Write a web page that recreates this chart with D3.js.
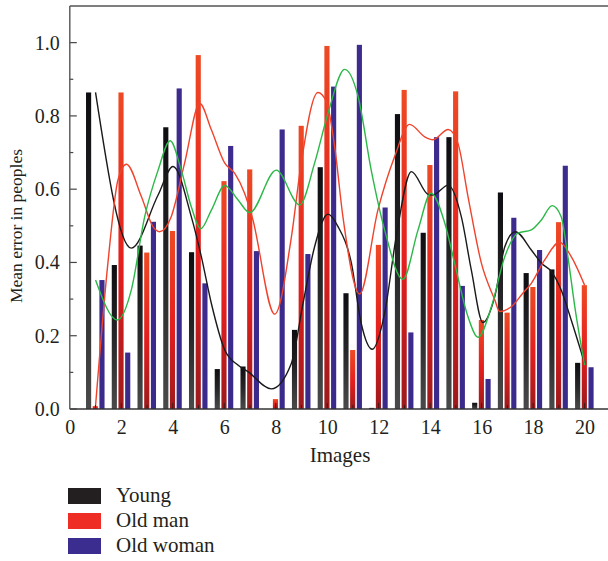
<!DOCTYPE html>
<html>
<head>
<meta charset="utf-8">
<script src="https://cdn.jsdelivr.net/npm/d3@7"></script>
<style>
  html, body { margin: 0; padding: 0; background: #fff; }
</style>
</head>
<body>
<svg id="chart" width="608" height="561"></svg>
<script>
// ---------- data ----------
const images = d3.range(1, 21);
const seriesNames = ["Young", "Old man", "Old woman"];
const young    = [0.864, 0.393, 0.446, 0.769, 0.428, 0.109, 0.116, 0.000, 0.216, 0.660,
                  0.316, 0.003, 0.805, 0.481, 0.742, 0.017, 0.591, 0.371, 0.381, 0.126];
const oldMan   = [0.008, 0.864, 0.427, 0.486, 0.966, 0.622, 0.654, 0.027, 0.773, 0.991,
                  0.161, 0.448, 0.871, 0.666, 0.867, 0.243, 0.263, 0.333, 0.510, 0.338];
const oldWoman = [0.352, 0.154, 0.511, 0.875, 0.343, 0.718, 0.431, 0.763, 0.423, 0.880,
                  0.994, 0.550, 0.209, 0.742, 0.336, 0.082, 0.522, 0.434, 0.664, 0.114];

// smooth trend curves: [image, value]
const youngCurve = [[1.0,0.864],[2.39,0.439],[3.43,0.584],[4.01,0.662],[4.72,0.525],[5.11,0.416],
  [5.50,0.288],[6.02,0.161],[6.53,0.120],[6.92,0.102],[7.83,0.055],[8.61,0.125],[9.06,0.288],
  [9.51,0.443],[10.03,0.532],[10.42,0.498],[10.94,0.398],[11.32,0.234],[11.75,0.163],[12.23,0.261],
  [12.68,0.470],[13.27,0.648],[13.92,0.586],[14.11,0.584],[14.70,0.611],[15.21,0.525],[15.60,0.379],
  [16.05,0.236],[16.51,0.307],[16.90,0.443],[17.31,0.484],[17.93,0.434],[18.32,0.398],[18.71,0.375],
  [19.09,0.325],[19.48,0.243],[20.0,0.125]];
const oldManCurve = [[1.0,0.008],[1.48,0.398],[1.87,0.625],[2.20,0.668],[2.78,0.58],[3.23,0.498],
  [3.49,0.484],[3.94,0.525],[4.46,0.671],[5.05,0.834],[5.50,0.762],[6.02,0.671],[6.41,0.643],
  [6.79,0.589],[7.10,0.520],[7.96,0.259],[8.61,0.47],[8.99,0.671],[9.64,0.864],[9.97,0.839],
  [10.29,0.716],[10.61,0.525],[11.26,0.314],[11.97,0.543],[12.62,0.689],[13.20,0.777],[13.79,0.743],
  [14.11,0.735],[14.70,0.763],[15.08,0.725],[15.47,0.58],[15.99,0.398],[16.51,0.298],[16.70,0.266],
  [17.15,0.279],[17.60,0.316],[17.93,0.343],[18.45,0.407],[19.03,0.455],[19.48,0.416],[20.0,0.338]];
const oldWomanCurve = [[1.0,0.352],[1.85,0.243],[2.39,0.325],[2.91,0.525],[3.43,0.652],[3.90,0.732],
  [4.33,0.652],[4.72,0.552],[5.09,0.492],[5.50,0.543],[6.02,0.610],[6.53,0.571],[6.99,0.536],
  [8.02,0.652],[8.93,0.557],[9.51,0.671],[10.03,0.807],[10.68,0.927],[11.20,0.853],[11.71,0.652],
  [12.23,0.489],[12.94,0.354],[13.53,0.489],[14.03,0.589],[14.57,0.507],[14.95,0.398],[15.47,0.252],
  [15.86,0.196],[16.38,0.279],[16.90,0.416],[17.41,0.48],[17.93,0.489],[18.32,0.516],[18.74,0.555],
  [19.09,0.525],[19.35,0.416],[19.62,0.279],[20.0,0.12]];

const xTicks = [0, 2, 4, 6, 8, 10, 12, 14, 16, 18, 20];
const yTicks = [0.0, 0.2, 0.4, 0.6, 0.8, 1.0];

// ---------- layout ----------
const SERIF = "'Liberation Serif', 'Times New Roman', Times, 'DejaVu Serif', serif";
const svg = d3.select("#chart");
const x = d3.scaleLinear().domain([0, 20]).range([69.8, 584.6]);
const y = d3.scaleLinear().domain([0, 1.1]).range([409, 6]);
const offset = d3.scalePoint().domain(seriesNames).range([-0.27, 0.25]);
const barW = x(0.2) - x(0);

const defs = svg.append("defs");
function grad(id, stops) {
  const g = defs.append("linearGradient").attr("id", id)
    .attr("x1", 0).attr("y1", 0).attr("x2", 0).attr("y2", 1);
  stops.forEach(s => g.append("stop").attr("offset", s[0]).attr("stop-color", s[1]));
}
grad("gY", [[0, "#0e0e12"], [0.5, "#262628"], [1, "#4a4a4a"]]);
grad("gM", [[0, "#ee4a24"], [0.55, "#e41e1e"], [1, "#9c1a1c"]]);
grad("gW", [[0, "#3d2b8e"], [1, "#3a2a8c"]]);

const fills = {"Young": "url(#gY)", "Old man": "url(#gM)", "Old woman": "url(#gW)"};
const legendColors = {"Young": "#231f20", "Old man": "#ee2d24", "Old woman": "#3a2d8f"};
const seriesData = {"Young": young, "Old man": oldMan, "Old woman": oldWoman};

// top frame line
svg.append("line").attr("x1", x(0)).attr("x2", 608).attr("y1", y(1.1)).attr("y2", y(1.1))
  .attr("stroke", "#555").attr("stroke-width", 1.3);

// bars
seriesNames.forEach(name => {
  svg.append("g").selectAll("rect")
    .data(images.map((im, i) => ({im, v: seriesData[name][i]})))
    .join("rect")
    .attr("x", d => x(d.im + offset(name)) - barW / 2)
    .attr("width", barW)
    .attr("y", d => y(d.v))
    .attr("height", d => y(0) - y(d.v))
    .attr("fill", fills[name]);
});

// curves
const line = d3.line().x(d => x(d[0])).y(d => y(d[1])).curve(d3.curveMonotoneX);
[[youngCurve, "#1a1a1a"], [oldManCurve, "#f0432c"], [oldWomanCurve, "#2bb848"]].forEach(([c, col]) => {
  svg.append("path").attr("d", line(c)).attr("fill", "none")
    .attr("stroke", col).attr("stroke-width", 1.4);
});

// axes
const xAxis = svg.append("g").attr("transform", `translate(0,${y(0)})`)
  .call(d3.axisBottom(x).tickValues(xTicks).tickSize(0).tickPadding(11).tickFormat(d3.format("d")));
xAxis.select(".domain").remove();
xAxis.selectAll("text").style("font-family", SERIF).style("font-size", "20px").attr("fill", "#231f20");
svg.append("g").selectAll("line").data(d3.range(1, 21)).join("line")
  .attr("x1", d => x(d)).attr("x2", d => x(d))
  .attr("y1", y(0)).attr("y2", d => y(0) - (d % 2 === 0 ? 6 : 4))
  .attr("stroke", "#3a1a1a").attr("stroke-width", 1);
svg.append("line").attr("x1", x(0)).attr("x2", 608).attr("y1", y(0)).attr("y2", y(0))
  .attr("stroke", "#333").attr("stroke-width", 1.6);

const yAxis = svg.append("g").attr("transform", `translate(${x(0)},0)`)
  .call(d3.axisLeft(y).tickValues(yTicks).tickSize(0).tickPadding(10).tickFormat(d3.format(".1f")));
yAxis.select(".domain").remove();
yAxis.selectAll("text").style("font-family", SERIF).style("font-size", "20px").attr("fill", "#231f20");
svg.append("g").selectAll("line").data(d3.range(0, 11).map(i => i / 10)).join("line")
  .attr("x1", x(0)).attr("x2", (d, i) => x(0) + (i % 2 === 0 ? 7 : 3.5))
  .attr("y1", d => y(d)).attr("y2", d => y(d))
  .attr("stroke", "#444").attr("stroke-width", 1.2);
svg.append("line").attr("x1", x(0)).attr("x2", x(0)).attr("y1", y(1.1)).attr("y2", y(0))
  .attr("stroke", "#555").attr("stroke-width", 1.4);

// axis titles
svg.append("text").attr("x", 340).attr("y", 462).attr("text-anchor", "middle")
  .style("font-family", SERIF).style("font-size", "21px").attr("fill", "#231f20").text("Images");
svg.append("text").attr("transform", "translate(22,226) rotate(-90)").attr("text-anchor", "middle")
  .style("font-family", SERIF).style("font-size", "17.5px").attr("fill", "#231f20").text("Mean error in peoples");

// legend
const lg = svg.append("g");
seriesNames.forEach((name, i) => {
  const cy = 496 + i * 25;
  lg.append("rect").attr("x", 68).attr("y", cy - 8).attr("width", 33).attr("height", 16)
    .attr("fill", legendColors[name]);
  lg.append("text").attr("x", 116).attr("y", cy + 6)
    .style("font-family", SERIF).style("font-size", "21px").attr("fill", "#231f20").text(name);
});
</script>
</body>
</html>
